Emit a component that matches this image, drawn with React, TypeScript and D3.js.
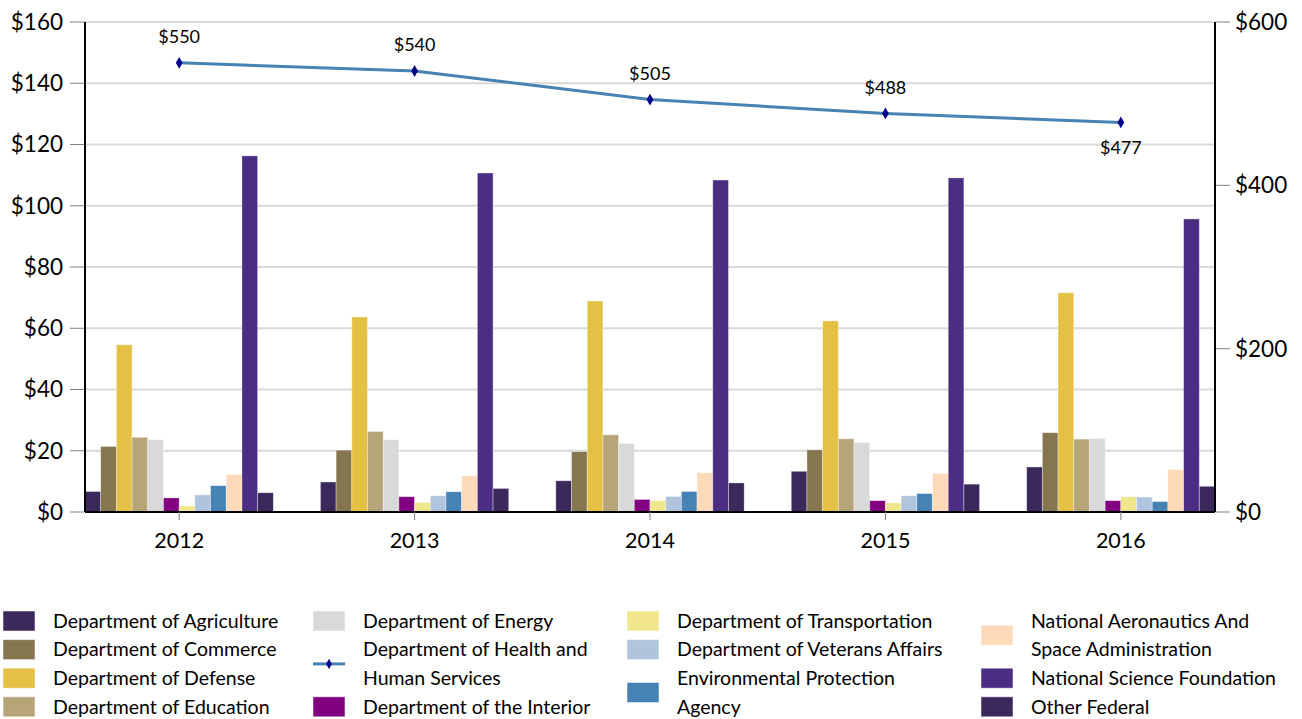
import React from "react";
import * as d3 from "d3";

// fiscal years
const years = ["2012", "2013", "2014", "2015", "2016"];

// bar series (left axis, $ millions)
const agriculture = [6.7, 9.8, 10.2, 13.3, 14.7];
const commerce = [21.4, 20.2, 19.7, 20.3, 25.9];
const defense = [54.6, 63.7, 68.9, 62.4, 71.6];
const education = [24.4, 26.3, 25.2, 23.9, 23.8];
const energy = [23.6, 23.6, 22.4, 22.7, 24.0];
const interior = [4.6, 5.0, 4.1, 3.7, 3.7];
const transportation = [2.0, 3.1, 3.7, 3.0, 5.0];
const veterans = [5.6, 5.3, 5.1, 5.3, 4.9];
const epa = [8.6, 6.6, 6.7, 6.0, 3.4];
const nasa = [12.2, 11.8, 12.8, 12.6, 13.9];
const nsf = [116.3, 110.7, 108.4, 109.1, 95.7];
const otherFederal = [6.3, 7.7, 9.5, 9.1, 8.4];

// line series (right axis)
const hhs = [550, 540, 505, 488, 477];

const leftTicks = [0, 20, 40, 60, 80, 100, 120, 140, 160];
const rightTicks = [0, 200, 400, 600];

const barSeries = [
  { name: "Department of Agriculture", values: agriculture, color: "#3c295c" },
  { name: "Department of Commerce", values: commerce, color: "#85764f" },
  { name: "Department of Defense", values: defense, color: "#e4c044" },
  { name: "Department of Education", values: education, color: "#b7a57a" },
  { name: "Department of Energy", values: energy, color: "#d9d9d9" },
  { name: "Department of the Interior", values: interior, color: "#800080" },
  { name: "Department of Transportation", values: transportation, color: "#f0e68c" },
  { name: "Department of Veterans Affairs", values: veterans, color: "#b0c4de" },
  { name: "Environmental Protection Agency", values: epa, color: "#4682b4" },
  { name: "National Aeronautics And Space Administration", values: nasa, color: "#ffdab9" },
  { name: "National Science Foundation", values: nsf, color: "#4b2e83" },
  { name: "Other Federal", values: otherFederal, color: "#3c295c" },
];

// legend columns (column-major like the original)
const legendCols = [
  [
    { lines: ["Department of Agriculture"], color: "#3c295c" },
    { lines: ["Department of Commerce"], color: "#85764f" },
    { lines: ["Department of Defense"], color: "#e4c044" },
    { lines: ["Department of Education"], color: "#b7a57a" },
  ],
  [
    { lines: ["Department of Energy"], color: "#d9d9d9" },
    { lines: ["Department of Health and", "Human Services"], color: "line" },
    { lines: ["Department of the Interior"], color: "#800080" },
  ],
  [
    { lines: ["Department of Transportation"], color: "#f0e68c" },
    { lines: ["Department of Veterans Affairs"], color: "#b0c4de" },
    { lines: ["Environmental Protection", "Agency"], color: "#4682b4" },
  ],
  [
    { lines: ["National Aeronautics And", "Space Administration"], color: "#ffdab9" },
    { lines: ["National Science Foundation"], color: "#4b2e83" },
    { lines: ["Other Federal"], color: "#3c295c" },
  ],
];

const W = 1302;
const H = 719;
const FONT = "Lato, 'Open Sans', sans-serif";
const margin = { left: 85, right: 87, top: 22, bottom: 207 };
const plotRight = W - margin.right;
const plotBottom = H - margin.bottom;

export default function App() {
  const x0 = d3.scaleBand<string>().domain(years).range([margin.left, plotRight]).paddingInner(0.2).paddingOuter(0);
  const x1 = d3
    .scaleBand<string>()
    .domain(barSeries.map((s) => s.name))
    .range([0, x0.bandwidth()])
    .padding(0);
  const yL = d3.scaleLinear().domain([0, 160]).range([plotBottom, margin.top]);
  const yR = d3.scaleLinear().domain([0, 600]).range([plotBottom, margin.top]);

  const cx = (y: string) => (x0(y) as number) + x0.bandwidth() / 2;
  const line = d3
    .line<number>()
    .x((_, i) => cx(years[i]))
    .y((d) => yR(d));

  const lineStep = 28.6;
  const legendX = [3, 313, 627, 981];
  const firstLine = 621;

  return (
    <svg
      width={W}
      height={H}
      style={{ position: "absolute", left: 0, top: 0, background: "#fff" }}
      fontFamily={FONT}
    >
      {/* gridlines */}
      {leftTicks.map((t) => (
        <line key={"g" + t} x1={margin.left} x2={plotRight} y1={yL(t)} y2={yL(t)} stroke="#d9d9d9" strokeWidth={2} />
      ))}

      {/* bars */}
      {barSeries.map((s) => (
        <g key={s.name}>
          {s.values.map((v, i) => (
            <rect
              key={i}
              x={(x0(years[i]) as number) + (x1(s.name) as number)}
              y={yL(v)}
              width={x1.bandwidth()}
              height={yL(0) - yL(v)}
              fill={s.color}
              stroke="rgba(255,255,255,0.45)"
              strokeWidth={0.8}
            />
          ))}
        </g>
      ))}

      {/* axes lines */}
      <line x1={margin.left} x2={margin.left} y1={margin.top} y2={plotBottom} stroke="#000" strokeWidth={2} />
      <line x1={plotRight} x2={plotRight} y1={margin.top} y2={plotBottom} stroke="#000" strokeWidth={2} />
      <line x1={margin.left} x2={plotRight} y1={plotBottom} y2={plotBottom} stroke="#000" strokeWidth={2} />

      {/* left ticks */}
      {leftTicks.map((t) => (
        <g key={"l" + t}>
          <line x1={margin.left - 15} x2={margin.left - 1} y1={yL(t)} y2={yL(t)} stroke="#808080" strokeWidth={1} />
          <text x={margin.left - 22} y={yL(t)} dy="0.35em" textAnchor="end" fontSize={22.5} fill="#000">
            {"$" + t}
          </text>
        </g>
      ))}

      {/* right ticks */}
      {rightTicks.map((t) => (
        <g key={"r" + t}>
          <line x1={plotRight + 1} x2={plotRight + 15} y1={yR(t)} y2={yR(t)} stroke="#808080" strokeWidth={1} />
          <text x={plotRight + 20} y={yR(t)} dy="0.35em" textAnchor="start" fontSize={22.5} fill="#000">
            {"$" + t}
          </text>
        </g>
      ))}

      {/* x ticks */}
      {years.map((y) => (
        <g key={"x" + y}>
          <line x1={cx(y)} x2={cx(y)} y1={plotBottom} y2={plotBottom + 8} stroke="#808080" strokeWidth={1} />
          <text x={cx(y)} y={540} dy="0.35em" textAnchor="middle" fontSize={21.5} fill="#000">
            {y}
          </text>
        </g>
      ))}

      {/* HHS line */}
      <path d={line(hhs) || ""} fill="none" stroke="#4682b4" strokeWidth={3} />
      {hhs.map((v, i) => (
        <g key={"m" + i}>
          <path
            d={d3.symbol(d3.symbolDiamond, 40)() || ""}
            transform={`translate(${cx(years[i])},${yR(v)})`}
            fill="#00008b"
          />
          <text
            x={cx(years[i])}
            y={i === hhs.length - 1 ? yR(v) + 25 : yR(v) - 26}
            dy="0.35em"
            textAnchor="middle"
            fontSize={18}
            fill="#000"
          >
            {"$" + v}
          </text>
        </g>
      ))}

      {/* legend */}
      {legendCols.map((col, ci) => {
        let line0 = 0;
        return (
          <g key={"c" + ci}>
            {col.map((item) => {
              const start = line0;
              line0 += item.lines.length;
              const midY = firstLine + lineStep * (start + (item.lines.length - 1) / 2);
              const lx = legendX[ci];
              return (
                <g key={item.lines[0]}>
                  {item.color === "line" ? (
                    <g>
                      <line x1={lx} x2={lx + 32} y1={midY} y2={midY} stroke="#4682b4" strokeWidth={3} />
                      <path
                        d={d3.symbol(d3.symbolDiamond, 30)() || ""}
                        transform={`translate(${lx + 16},${midY})`}
                        fill="#00008b"
                      />
                    </g>
                  ) : (
                    <rect x={lx} y={midY - 10} width={32} height={20} fill={item.color} stroke="rgba(255,255,255,0.5)" />
                  )}
                  {item.lines.map((t, li) => (
                    <text
                      key={t}
                      x={lx + 50}
                      y={firstLine + lineStep * (start + li)}
                      dy="0.35em"
                      fontSize={19.5}
                      fill="#000"
                    >
                      {t}
                    </text>
                  ))}
                </g>
              );
            })}
          </g>
        );
      })}
    </svg>
  );
}
